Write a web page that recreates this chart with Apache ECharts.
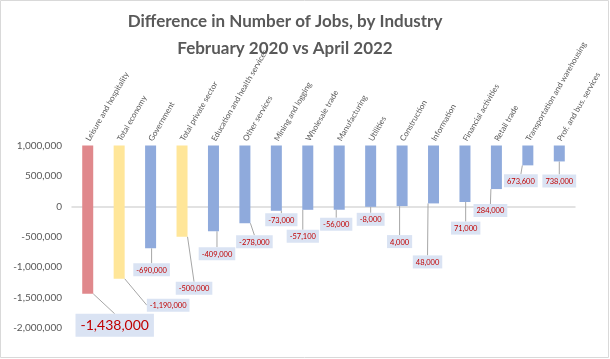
<!DOCTYPE html>
<html>
<head>
<meta charset="utf-8">
<script src="https://cdn.jsdelivr.net/npm/echarts@6/dist/echarts.min.js"></script>
<style>
html,body{margin:0;padding:0;background:#fff;}
#chart{width:610px;height:359px;}
</style>
</head>
<body>
<div id="chart"></div>
<script>
const categories = ['Leisure and hospitality','Total economy','Government','Total private sector','Education and health services','Other services','Mining and logging','Wholesale trade','Manufacturing','Utilities','Construction','Information','Financial activities','Retail trade','Transportation and warehousing','Prof. and bus. services'];
const values = [-1438000,-1190000,-690000,-500000,-409000,-278000,-73000,-57100,-56000,-8000,4000,48000,71000,284000,673600,738000];
const groups = ['hl','total','ind','total','ind','ind','ind','ind','ind','ind','ind','ind','ind','ind','ind','ind'];
const yTicks = [-2000000,-1500000,-1000000,-500000,0,500000,1000000];
const baseTop = 1000000;

// label offsets (style only, px)
const labelOffsets = [[27,20],[49,20],[1,15],[12,45],[3.5,16],[9.5,12],[5,2.5],[-5,20],[-3,8],[0,6],[-2.5,29],[-6,52],[0.7,19.6],[-6,15],[-7,9],[0,13]];
const colorMap = {hl:'#e0888c', total:'#ffe699', ind:'#8faadc'};

const chart = echarts.init(document.getElementById('chart'));
const fmt = v => (v<0?'-':'') + Math.abs(v).toLocaleString('en-US');

chart.setOption({
  animation:false,
  title:{
    text:'Difference in Number of Jobs, by Industry\nFebruary 2020 vs April 2022',
    left:280, top:3, textAlign:'center',
    textStyle:{fontFamily:'Lato', fontWeight:'bold', fontSize:17, color:'#595959', lineHeight:27}
  },
  graphic:[{type:'rect', shape:{x:0.5,y:0.5,width:608,height:357}, style:{fill:'none', stroke:'#d9d9d9', lineWidth:1}, silent:true}],
  grid:{left:72, right:35, top:145.5, bottom:31},
  xAxis:{
    type:'category', data:categories, position:'top',
    axisLine:{show:true, lineStyle:{color:'#d9d9d9', width:1.5}},
    axisTick:{show:false},
    axisLabel:{interval:0, rotate:60, fontFamily:'Lato', fontSize:8, color:'#595959', margin:5}
  },
  yAxis:{
    type:'value', min:yTicks[0], max:yTicks[yTicks.length-1], interval:500000,
    axisLine:{show:false}, axisTick:{show:false}, splitLine:{show:false},
    axisLabel:{fontFamily:'Lato', fontSize:10, color:'#595959', margin:10, formatter:fmt}
  },
  series:[
    {
      type:'bar', stack:'s', stackStrategy:'all', silent:true,
      data:values, barWidth:11,
      itemStyle:{color:'transparent'}
    },
    {
      type:'bar', stack:'s', stackStrategy:'all',
      barWidth:11,
      data:values.map((v,i)=>{
        const item = {value: baseTop - v, itemStyle:{color:colorMap[groups[i]]}};
        if(i===0) item.label = {fontSize:14, padding:[5,5,4,5]};
        return item;
      }),
      label:{
        show:true, position:'bottom', distance:0,
        formatter:p=>fmt(values[p.dataIndex]),
        fontFamily:'Lato', fontSize:7.5, color:'#c00000',
        backgroundColor:'#dae3f3', padding:[3,3,2,3]
      },
      labelLine:{show:true, lineStyle:{color:'#a6a6a6', width:1}},
      labelLayout:p=>({dx:labelOffsets[p.dataIndex][0], dy:labelOffsets[p.dataIndex][1]})
    }
  ]
});
</script>
</body>
</html>
